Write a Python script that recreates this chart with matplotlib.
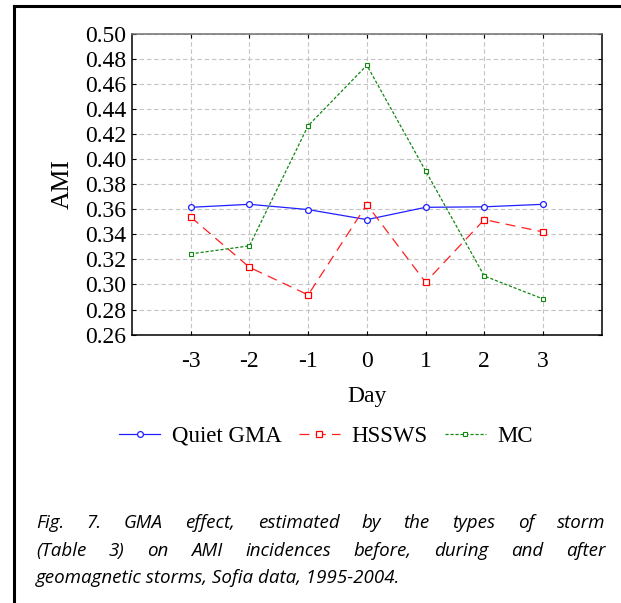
import matplotlib
matplotlib.use("Agg")
import matplotlib.pyplot as plt
from matplotlib.lines import Line2D

days = [-3, -2, -1, 0, 1, 2, 3]
quiet_gma = [0.3615, 0.3639, 0.3597, 0.3517, 0.3615, 0.3619, 0.3639]
hssws = [0.3538, 0.3137, 0.2917, 0.3637, 0.3018, 0.3517, 0.3419]
mc = [0.3244, 0.3308, 0.4265, 0.4747, 0.3906, 0.3068, 0.2885]
series_names = ["Quiet GMA", "HSSWS", "MC"]
y_ticks = [0.26, 0.28, 0.30, 0.32, 0.34, 0.36, 0.38, 0.40, 0.42, 0.44, 0.46, 0.48, 0.50]
x_label = "Day"
y_label = "AMI"
caption_lines = [
    "Fig. 7. GMA effect, estimated by the types of storm",
    "(Table 3) on AMI incidences before, during and after",
    "geomagnetic storms, Sofia data, 1995-2004.",
]

W, H, DPI = 621, 603, 100
fig = plt.figure(figsize=(W / DPI, H / DPI), dpi=DPI, facecolor="white")
serif = ["Liberation Serif", "DejaVu Serif"]

ax = fig.add_axes([132 / W, 1 - 334.7 / H, (601.7 - 132) / W, (334.7 - 33.5) / H])
ax.set_xlim(-4, 4)
ax.set_ylim(0.26, 0.50)
ax.set_xticks(days)
ax.set_yticks(y_ticks)
ax.set_xticklabels([str(d) for d in days], fontfamily=serif, fontsize=17)
ax.set_yticklabels([f"{v:.2f}" for v in y_ticks], fontfamily=serif, fontsize=17)
ax.tick_params(direction="in", length=3, width=0.8, top=True, right=True, colors="black")
ax.tick_params(axis="x", pad=12)
ax.tick_params(axis="y", pad=4)
ax.grid(True, color="#c4c4c4", linestyle=(0, (4, 2.5)), linewidth=0.8)
ax.set_axisbelow(True)
for s in ["left", "bottom", "right"]:
    ax.spines[s].set_color("black")
    ax.spines[s].set_linewidth(1.1)
ax.spines["top"].set_color("#707070")
ax.spines["top"].set_linewidth(1.1)

l1, = ax.plot(days, quiet_gma, color="#2020ff", linewidth=0.9, marker="o", markersize=4.2,
              markerfacecolor="white", markeredgecolor="#2020ff", markeredgewidth=0.9,
              label=series_names[0])
l2, = ax.plot(days, hssws, color="#ff2020", linewidth=0.9, dashes=(8, 5), marker="s", markersize=4.5,
              markerfacecolor="white", markeredgecolor="#ff0000", markeredgewidth=0.9,
              label=series_names[1])
l3, = ax.plot(days, mc, color="#118811", linewidth=0.9, dashes=(2.5, 1.5), marker="s", markersize=2.3,
              markerfacecolor="white", markeredgecolor="#118811", markeredgewidth=0.8,
              label=series_names[2])

ax.set_xlabel(x_label, fontfamily=serif, fontsize=17, labelpad=10)
ax.set_ylabel(y_label, fontfamily=serif, fontsize=18.5, labelpad=8)

fig.legend(handles=[l1, l2, l3], loc="center", bbox_to_anchor=(326 / W, 1 - 436 / H),
           ncol=3, frameon=False, prop={"family": serif, "size": 16.5},
           handlelength=1.8, handletextpad=0.5, columnspacing=0.75)

# border (cropped frame: left and top visible)
fig.add_artist(Line2D([14 / W, 14 / W], [0, 1 - 5.5 / H], transform=fig.transFigure,
                      color="black", linewidth=2.2, solid_capstyle="projecting"))
fig.add_artist(Line2D([14 / W, 1.0], [1 - 5.5 / H, 1 - 5.5 / H], transform=fig.transFigure,
                      color="black", linewidth=2.2, solid_capstyle="projecting"))

# caption (justified first two lines)
cap_font = dict(family=["Open Sans", "DejaVu Sans"], style="italic", size=13.5, color="#000000")
fig.canvas.draw()
renderer = fig.canvas.get_renderer()
x0, x1 = 36 / W, 605 / W
ys = [1 - 523 / H, 1 - 551 / H, 1 - 578 / H]
for i, line in enumerate(caption_lines):
    if i < 2:
        words = line.split(" ")
        texts = [fig.text(0, ys[i], w, va="center", ha="left", **cap_font) for w in words]
        widths = [t.get_window_extent(renderer).width / W for t in texts]
        gap = ((x1 - x0) - sum(widths)) / (len(words) - 1)
        x = x0
        for t, wd in zip(texts, widths):
            t.set_x(x)
            x += wd + gap
    else:
        fig.text(x0, ys[i], line, va="center", ha="left", **cap_font)

fig.savefig("out.png", dpi=DPI, facecolor="white")
